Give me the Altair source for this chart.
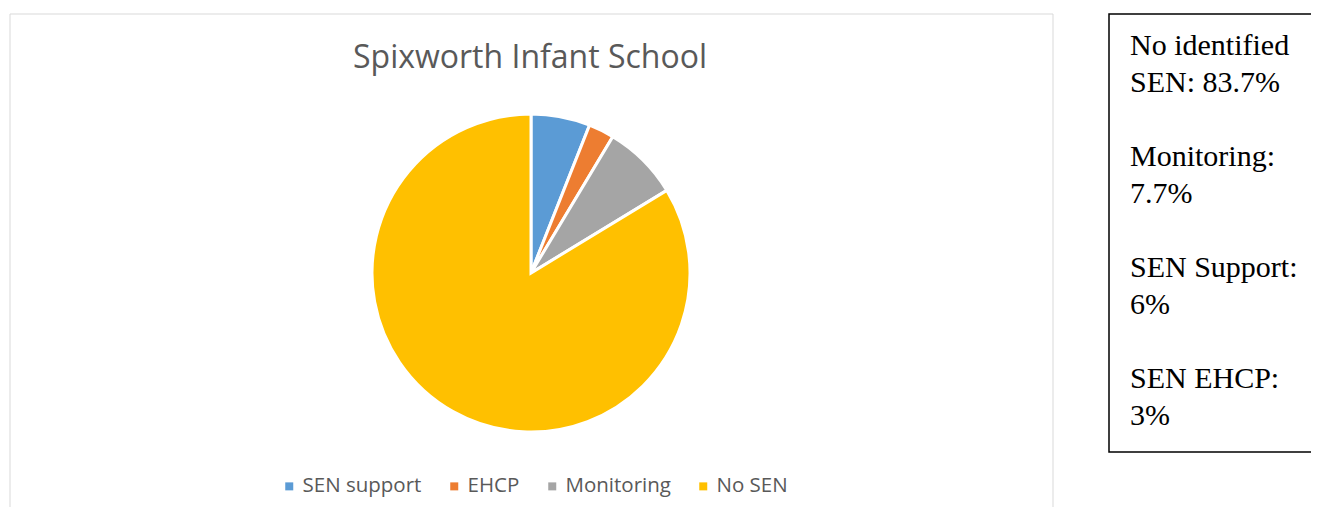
import altair as alt
import pandas as pd

categories = ["SEN support", "EHCP", "Monitoring", "No SEN"]
values = [6.0, 2.6, 7.7, 83.7]
colors = ["#5B9BD5", "#ED7D31", "#A5A5A5", "#FFC000"]
title_text = "Spixworth Infant School"
box_groups = ["No identified\nSEN: 83.7%", "Monitoring:\n7.7%", "SEN Support:\n6%", "SEN EHCP:\n3%"]

df = pd.DataFrame({"category": categories, "value": values, "idx": list(range(len(categories)))})
box_df = pd.DataFrame({"g": list(range(len(box_groups))), "t": box_groups})

W, H = 1303, 499
one = pd.DataFrame({"a": [0]})

panel = alt.Chart(one).mark_rect(
    fill="white", stroke="#d9d9d9", strokeWidth=1, clip=True
).encode(x=alt.value(2), x2=alt.value(1045), y=alt.value(6), y2=alt.value(540))

box = alt.Chart(one).mark_rect(
    fill="white", stroke="black", strokeWidth=1.5, clip=True
).encode(x=alt.value(1101), x2=alt.value(1400), y=alt.value(6), y2=alt.value(444))

pie = alt.Chart(df).mark_arc(radius=159, stroke="white", strokeWidth=3).encode(
    theta=alt.Theta("value:Q", stack=True),
    order=alt.Order("idx:Q", sort="ascending"),
    color=alt.Color(
        "category:N",
        scale=alt.Scale(domain=categories, range=colors),
        legend=alt.Legend(
            title=None, orient="none", direction="horizontal",
            legendX=271, legendY=468, padding=0,
            symbolType="square", symbolSize=64, symbolStrokeWidth=0,
            labelFont="Open Sans", labelFontSize=20.5, labelColor="#595959",
            labelOffset=3, columnPadding=22, labelLimit=300,
        ),
    ),
    x=alt.value(523), y=alt.value(265),
)

title = alt.Chart(pd.DataFrame({"t": [title_text]})).mark_text(
    font="Open Sans", fontSize=32, color="#595959", align="center", baseline="alphabetic"
).encode(text="t:N", x=alt.value(522), y=alt.value(60))

box_text = alt.Chart(box_df).mark_text(
    font="Liberation Serif", fontSize=30, color="black", align="left",
    baseline="alphabetic", lineHeight=37, lineBreak="\n"
).encode(
    text="t:N",
    x=alt.value(1122),
    y=alt.Y("g:O", axis=None, scale=alt.Scale(type="point", range=[47, 380], padding=0)),
)

chart = alt.layer(panel, box, pie, title, box_text).properties(
    width=W, height=H, padding=0, autosize=alt.AutoSizeParams(type="none")
).configure_view(stroke=None)

chart.save("out.html", embed_options={"renderer": "svg", "actions": False})
